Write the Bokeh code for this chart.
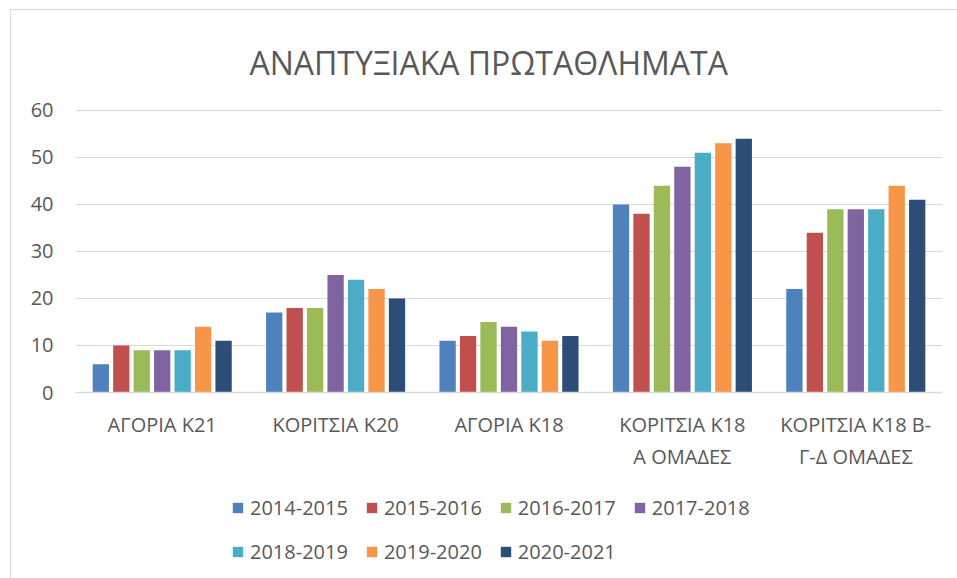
from bokeh.plotting import figure
from bokeh.layouts import column
from bokeh.models import ColumnDataSource, Range1d, FactorRange, Legend, LegendItem, SingleIntervalTicker
from bokeh.transform import dodge
from bokeh.embed import file_html
from bokeh.resources import INLINE

categories = ["ΑΓΟΡΙΑ Κ21", "ΚΟΡΙΤΣΙΑ Κ20", "ΑΓΟΡΙΑ Κ18", "ΚΟΡΙΤΣΙΑ Κ18\nΑ ΟΜΑΔΕΣ", "ΚΟΡΙΤΣΙΑ Κ18 Β-\nΓ-Δ ΟΜΑΔΕΣ"]
seasons = ["2014-2015", "2015-2016", "2016-2017", "2017-2018", "2018-2019", "2019-2020", "2020-2021"]
s2014_2015 = [6, 17, 11, 40, 22]
s2015_2016 = [10, 18, 12, 38, 34]
s2016_2017 = [9, 18, 15, 44, 39]
s2017_2018 = [9, 25, 14, 48, 39]
s2018_2019 = [9, 24, 13, 51, 39]
s2019_2020 = [14, 22, 11, 53, 44]
s2020_2021 = [11, 20, 12, 54, 41]
series = [s2014_2015, s2015_2016, s2016_2017, s2017_2018, s2018_2019, s2019_2020, s2020_2021]
colors = ["#4F81BD", "#C0504D", "#9BBB59", "#8064A2", "#4BACC6", "#F79646", "#2C4D75"]

FONT = "Open Sans"
TXT = "#595959"

data = {"cat": categories}
for s, vals in zip(seasons, series):
    data[s] = vals
src = ColumnDataSource(data)

p = figure(x_range=FactorRange(*categories), y_range=Range1d(0, 60.2),
           width=950, height=466, output_backend="svg", toolbar_location=None,
           title="ΑΝΑΠΤΥΞΙΑΚΑ ΠΡΩΤΑΘΛΗΜΑΤΑ")
p.min_border_left = 64
p.min_border_right = 19
p.min_border_top = 99
p.min_border_bottom = 84
p.outline_line_color = None
p.x_range.range_padding = 0
p.x_range.group_padding = 0

p.title.align = "left"
p.title.text_font = FONT
p.title.text_font_size = "32px"
p.title.text_font_style = "normal"
p.title.text_color = TXT
p.title.standoff = 51
p.title.offset = 174

for i, (s, c) in enumerate(zip(seasons, colors)):
    p.vbar(x=dodge("cat", (i - 3) * 0.118, range=p.x_range), top=s, width=0.094,
           source=src, fill_color=c, line_color=None)

p.xgrid.grid_line_color = None
p.ygrid.grid_line_color = "#d9d9d9"
p.ygrid.grid_line_width = 1
p.yaxis.ticker = SingleIntervalTicker(interval=10)
p.yaxis.axis_line_color = None
p.yaxis.major_tick_line_color = None
p.yaxis.minor_tick_line_color = None
p.yaxis.major_label_text_font = FONT
p.yaxis.major_label_text_font_size = "20px"
p.yaxis.major_label_text_color = TXT
p.yaxis.major_label_standoff = 16

p.xaxis.axis_line_color = "#d9d9d9"
p.xaxis.axis_line_width = 1.5
p.xaxis.major_tick_line_color = None
p.xaxis.minor_tick_line_color = None
p.xaxis.major_label_text_font = FONT
p.xaxis.major_label_text_font_size = "20px"
p.xaxis.major_label_text_color = TXT
p.xaxis.major_label_standoff = 12

# legend-only figure below the chart (its bars lie outside its visible y range)
p2 = figure(width=950, height=106, output_backend="svg", toolbar_location=None,
            x_range=p.x_range, y_range=Range1d(1000, 1001))
p2.min_border = 0
p2.axis.visible = False
p2.grid.visible = False
p2.outline_line_color = None
items = []
for i, (s, c) in enumerate(zip(seasons, colors)):
    r = p2.vbar(x=dodge("cat", (i - 3) * 0.118, range=p.x_range), top=s, width=0.094,
                source=src, fill_color=c, line_color=None)
    items.append(LegendItem(label=s, renderers=[r]))

legend = Legend(items=items, ncols=4, orientation="horizontal", location=(156, 17))
legend.label_text_font = FONT
legend.label_text_font_size = "20px"
legend.label_text_color = TXT
legend.glyph_width = 13
legend.glyph_height = 13
legend.label_standoff = 6
legend.spacing = 17
legend.label_height = 26
legend.padding = 0
legend.margin = 0
legend.border_line_color = None
legend.background_fill_alpha = 0
p2.add_layout(legend, "center")

layout = column(p, p2, spacing=0)
layout.margin = (9, 0, 0, 10)
layout.styles = {"border-left": "1px solid #d9d9d9", "border-top": "1px solid #d9d9d9"}

open("out.html", "w").write(file_html(layout, INLINE))
